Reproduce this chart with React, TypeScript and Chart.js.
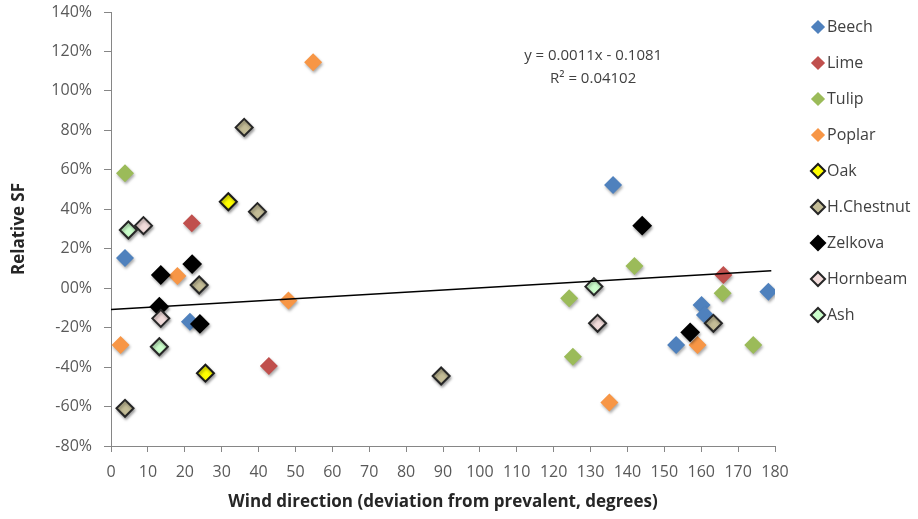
import { useEffect, useRef } from 'react';
import { Chart, registerables } from 'chart.js';

Chart.register(...registerables);

const seriesNames = ['Beech', 'Lime', 'Tulip', 'Poplar', 'Oak', 'H.Chestnut', 'Zelkova', 'Hornbeam', 'Ash'];

const beechX = [3.8, 21.4, 136.1, 160.1, 161.0, 153.2, 178.2];
const beechY = [0.153, -0.17, 0.523, -0.085, -0.136, -0.288, -0.018];
const limeX = [21.9, 42.8, 166.0];
const limeY = [0.329, -0.394, 0.067];
const tulipX = [3.8, 141.9, 124.2, 125.2, 165.8, 174.1];
const tulipY = [0.582, 0.113, -0.051, -0.347, -0.026, -0.288];
const poplarX = [54.8, 18.0, 48.1, 2.6, 159.0, 135.1];
const poplarY = [1.145, 0.062, -0.063, -0.288, -0.288, -0.58];
const oakX = [31.8, 25.6];
const oakY = [0.438, -0.431];
const chestnutX = [36.1, 39.7, 23.9, 3.8, 89.5, 163.3];
const chestnutY = [0.815, 0.388, 0.016, -0.609, -0.445, -0.178];
const zelkovaX = [13.5, 22.0, 13.1, 24.1, 144.0, 157.0];
const zelkovaY = [0.067, 0.122, -0.094, -0.181, 0.317, -0.224];
const hornbeamX = [8.8, 13.5, 131.9];
const hornbeamY = [0.317, -0.153, -0.178];
const ashX = [4.7, 13.1, 130.9];
const ashY = [0.295, -0.297, 0.008];

const seriesX = [beechX, limeX, tulipX, poplarX, oakX, chestnutX, zelkovaX, hornbeamX, ashX];
const seriesY = [beechY, limeY, tulipY, poplarY, oakY, chestnutY, zelkovaY, hornbeamY, ashY];

const fillColors = ['#4F81BD', '#C0504D', '#9BBB59', '#F79646', '#FFFF00', '#C4BD97', '#000000', '#F2DCDB', '#CCFFCC'];
const borderColors = ['#4F81BD', '#C0504D', '#9BBB59', '#F79646', '#1a1a1a', '#262626', '#000000', '#262626', '#262626'];
const bordered = [false, false, false, false, true, true, true, true, true];

// trendline from the displayed equation
const trendSlope = 0.0011;
const trendIntercept = -0.1081;
const trendX = [0, 179];
const equationLines = ['y = 0.0011x - 0.1081', 'R\u00B2 = 0.04102'];
const equationPosX = 130.7;
const equationPosY = [1.177, 1.06];

const yTickLabels = ['-80%', '-60%', '-40%', '-20%', '00%', '20%', '40%', '60%', '80%', '100%', '120%', '140%'];
const xTickLabels = ['0', '10', '20', '30', '40', '50', '60', '70', '80', '90', '100', '110', '120', '130', '140', '150', '160', '170', '180'];

const FONT = "'Open Sans', 'DejaVu Sans', sans-serif";
const N = seriesNames.length;

const shadowPlugin = {
  id: 'markerShadow',
  beforeDatasetDraw(chart: any, args: any) {
    if (args.index >= N) return;
    const ctx = chart.ctx;
    ctx.save();
    ctx.shadowColor = 'rgba(0,0,0,0.35)';
    ctx.shadowBlur = 3;
    ctx.shadowOffsetX = 1;
    ctx.shadowOffsetY = 2;
  },
  afterDatasetDraw(chart: any, args: any) {
    if (args.index >= N) return;
    chart.ctx.restore();
  },
};

const equationPlugin = {
  id: 'equation',
  afterDatasetsDraw(chart: any) {
    const ctx = chart.ctx;
    const xs = chart.scales.x;
    const ys = chart.scales.y;
    ctx.save();
    ctx.font = `15px ${FONT}`;
    ctx.fillStyle = '#404040';
    ctx.textAlign = 'center';
    ctx.textBaseline = 'middle';
    equationLines.forEach((t, i) => {
      ctx.fillText(t, xs.getPixelForValue(equationPosX), ys.getPixelForValue(equationPosY[i]));
    });
    ctx.restore();
  },
};

export default function App() {
  const ref = useRef<HTMLCanvasElement | null>(null);

  useEffect(() => {
    document.body.style.margin = '0';
    const canvas = ref.current;
    if (!canvas) return;

    const datasets: any[] = seriesNames.map((name, i) => ({
      type: 'scatter',
      label: name,
      data: seriesX[i].map((x, j) => ({ x, y: seriesY[i][j] })),
      pointStyle: 'rectRot',
      pointRadius: bordered[i] ? 8.5 : 9,
      pointHoverRadius: 9,
      backgroundColor: fillColors[i],
      borderColor: borderColors[i],
      borderWidth: bordered[i] ? 2 : 0,
      order: -i,
    }));
    datasets.push({
      type: 'line',
      label: 'trend',
      data: trendX.map((x) => ({ x, y: trendSlope * x + trendIntercept })),
      borderColor: '#000000',
      borderWidth: 1.5,
      pointRadius: 0,
      fill: false,
      showLine: true,
      order: -100,
    });

    const chart = new Chart(canvas, {
      type: 'scatter',
      data: { datasets },
      plugins: [shadowPlugin, equationPlugin],
      options: {
        animation: false,
        responsive: false,
        layout: { padding: { left: 9, top: -1, right: 0, bottom: 0 } },
        plugins: {
          tooltip: { enabled: false },
          legend: {
            position: 'right',
            align: 'start',
            maxWidth: 121,
            labels: {
              usePointStyle: true,
              boxWidth: 2,
              boxHeight: 10,
              padding: 20,
              color: '#404040',
              font: { family: FONT, size: 16 },
              filter: (item: any) => item.datasetIndex < N,
              sort: (a: any, b: any) => a.datasetIndex - b.datasetIndex,
            },
          },
        },
        scales: {
          x: {
            type: 'linear',
            min: 0,
            max: 180,
            afterFit: (s: any) => { s.height = 73; },
            ticks: {
              stepSize: 10,
              autoSkip: false,
              maxRotation: 0,
              padding: 11,
              color: '#595959',
              font: { family: FONT, size: 16 },
              callback: (_v: any, i: number) => xTickLabels[i],
            },
            grid: { display: true, drawOnChartArea: false, drawTicks: true, tickLength: 6, color: '#868686' },
            border: { display: true, color: '#868686', width: 1 },
            title: {
              display: true,
              text: 'Wind direction (deviation from prevalent, degrees)',
              color: '#262626',
              font: { family: FONT, size: 17, weight: 'bold' },
              padding: { top: 0, bottom: 7 },
            },
          },
          y: {
            type: 'linear',
            min: -0.8,
            max: 1.4,
            afterFit: (s: any) => { s.width = 102; s.paddingTop = 12; },
            ticks: {
              stepSize: 0.2,
              autoSkip: false,
              padding: 12,
              color: '#595959',
              font: { family: FONT, size: 16 },
              callback: (_v: any, i: number) => yTickLabels[i],
            },
            grid: { display: true, drawOnChartArea: false, drawTicks: true, tickLength: 7, color: '#868686' },
            border: { display: true, color: '#868686', width: 1 },
            title: {
              display: true,
              text: 'Relative SF',
              color: '#262626',
              font: { family: FONT, size: 17, weight: 'bold' },
              padding: { top: 0, bottom: 0 },
            },
          },
          yR: {
            type: 'linear',
            position: 'right',
            display: true,
            afterFit: (s: any) => { s.width = 22; },
            ticks: { display: false },
            grid: { display: false },
            border: { display: false },
          },
        },
      } as any,
    });

    return () => chart.destroy();
  }, []);

  return (
    <div style={{ width: 918, height: 519 }}>
      <canvas ref={ref} width={918} height={519} style={{ display: 'block' }} />
    </div>
  );
}
